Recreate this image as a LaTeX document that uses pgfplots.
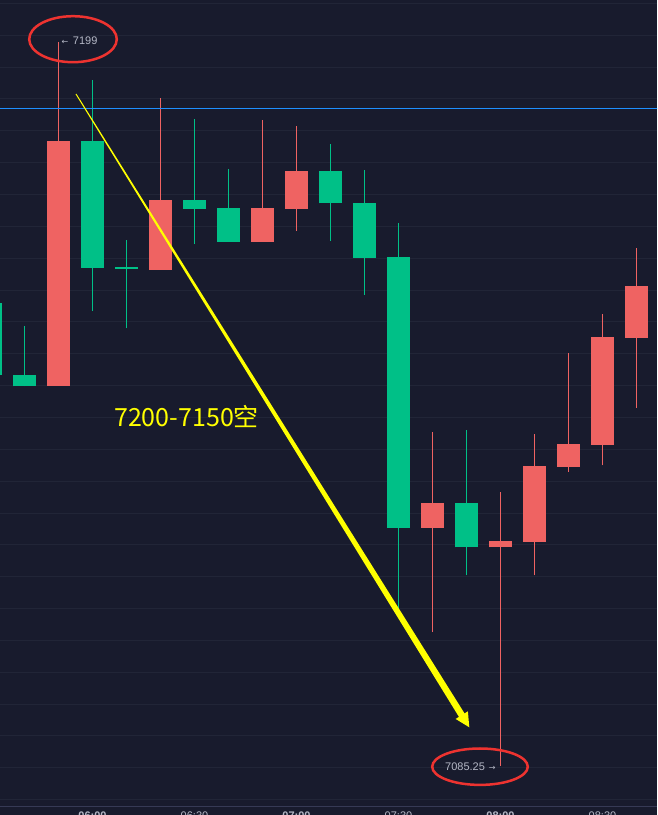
\documentclass[border=0pt]{standalone}
\usepackage{pgfplots}
\pgfplotsset{compat=1.18}
\usepackage{pgfplotstable}
\usepackage{fontspec}
\setmainfont{Liberation Sans}
\newfontfamily\cjk{Noto Sans CJK SC}
\newfontfamily\dejavu{DejaVu Sans}
\definecolor{bgcol}{HTML}{181B2D}
\definecolor{gridcol}{HTML}{212537}
\definecolor{upcol}{HTML}{EF6362}
\definecolor{dncol}{HTML}{00C087}
\definecolor{pricecol}{HTML}{1E8FFF}
\definecolor{axcol}{HTML}{363A55}
\definecolor{lblcol}{HTML}{B5B8C6}
\definecolor{ringcol}{HTML}{EE3330}
\definecolor{yel}{HTML}{FFFF00}

% rising candles (red)
\pgfplotstableread{
x o h l c
1 7145.0 7199.0 7145.0 7183.4
4 7163.2 7190.1 7163.2 7174.1
7 7167.6 7186.7 7167.6 7172.9
8 7172.8 7185.8 7169.3 7178.7
12 7122.7 7137.7 7106.3 7126.6
14 7119.6 7128.3 7085.25 7120.6
15 7120.5 7137.4 7115.2 7132.4
16 7132.3 7150.1 7131.5 7135.8
17 7135.7 7156.2 7132.5 7152.6
18 7152.5 7166.6 7141.5 7160.6
}\uptable

% falling candles (green)
\pgfplotstableread{
x o h l c
-1 7157.9 7157.9 7146.6 7146.6
0 7146.7 7154.4 7144.9 7144.9
2 7183.4 7193.0 7156.7 7163.5
3 7163.6 7167.9 7154.0 7163.3
5 7174.1 7186.8 7167.2 7172.8
6 7172.9 7179.0 7167.6 7167.6
9 7178.7 7182.9 7167.7 7173.6
10 7173.7 7178.9 7159.3 7165.1
11 7165.2 7170.6 7109.4 7122.7
13 7126.6 7138.1 7115.2 7119.6
}\dntable

\begin{document}
\begin{tikzpicture}
\path[use as bounding box] (0,0) rectangle (657pt,815pt);
\clip (0,0) rectangle (657pt,815pt);
\fill[bgcol] (0,0) rectangle (657pt,815pt);
\begin{axis}[
  at={(0pt,8pt)}, anchor=south west,
  width=657pt, height=807pt, scale only axis,
  xmin=-0.7206, xmax=18.603, ymin=7078.85, ymax=7205.54,
  axis line style={draw=none},
  tick style={draw=none},
  ytick={7080,7085,...,7205},
  yticklabels={},
  ymajorgrids,
  major grid style={draw=gridcol, line width=1pt},
  xtick={-1,2,5,8,11,14,17},
  xticklabels={05:30,\textbf{06:00},06:30,\textbf{07:00},07:30,\textbf{08:00},08:30},
  xticklabel style={font=\fontsize{11}{13}\selectfont, text=lblcol, anchor=north, inner sep=0pt, yshift=-5pt},
]
% wicks
\addplot[draw=none, forget plot, error bars/.cd, y dir=plus, y explicit, error mark=none,
  error bar style={draw=upcol, line width=1pt}]
  table[x=x, y=l, y error plus expr=\thisrow{h}-\thisrow{l}] {\uptable};
\addplot[draw=none, forget plot, error bars/.cd, y dir=plus, y explicit, error mark=none,
  error bar style={draw=dncol, line width=1pt}]
  table[x=x, y=l, y error plus expr=\thisrow{h}-\thisrow{l}] {\dntable};
% bodies
\addplot[draw=none, forget plot, error bars/.cd, y dir=plus, y explicit, error mark=none,
  error bar style={draw=upcol, line width=23pt}]
  table[x=x, y=o, y error plus expr=\thisrow{c}-\thisrow{o}] {\uptable};
\addplot[draw=none, forget plot, error bars/.cd, y dir=plus, y explicit, error mark=none,
  error bar style={draw=dncol, line width=23pt}]
  table[x=x, y=c, y error plus expr=\thisrow{o}-\thisrow{c}] {\dntable};
% current price line
\addplot[pricecol, line width=1.3pt] coordinates {(-2,7188.5) (20,7188.5)};
\end{axis}
\draw[axcol, line width=1pt] (0,8pt) -- (657pt,8pt);
\begin{scope}[shift={(0pt,815pt)}, x=1pt, y=-1pt]
  % yellow tapered arrow
  \fill[yel] (76.42,93.74) -- (464.56,713.41) -- (467.88,711.35) -- (469.3,727.3)
     -- (455.64,718.95) -- (458.96,716.89) -- (75.58,94.26) -- cycle;
  % rings
  \draw[ringcol, line width=2.5pt] (73,39.2) ellipse [x radius=43.8pt, y radius=23pt];
  \draw[ringcol, line width=2.5pt] (480,766.7) ellipse [x radius=47.8pt, y radius=18.2pt];
  % labels
  \node[anchor=base west, inner sep=0pt, text=lblcol, font=\fontsize{11}{13}\selectfont]
    at (61.5,44.3) {{\dejavu\fontsize{8}{10}\selectfont ←}\hspace{4.5pt}7199};
  \node[anchor=base west, inner sep=0pt, text=lblcol, font=\fontsize{11}{13}\selectfont]
    at (445,770) {7085.25\hspace{4pt}{\dejavu\fontsize{8}{10}\selectfont →}};
  \node[anchor=base west, inner sep=0pt, text=yel, font=\cjk\fontsize{25}{30}\selectfont]
    at (114,427) {7200-7150空};
\end{scope}
\end{tikzpicture}
\end{document}
